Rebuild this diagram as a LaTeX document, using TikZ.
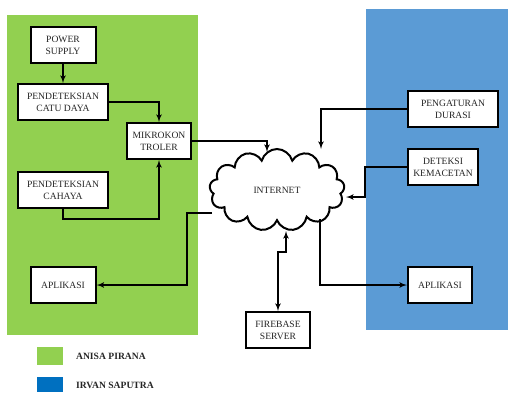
\documentclass[tikz,border=0pt]{standalone}
\usepackage{fontspec}
\setmainfont{Liberation Serif}
\usetikzlibrary{arrows,shapes.symbols,positioning}
\definecolor{anisagreen}{RGB}{146,208,80}
\definecolor{irvanblue}{RGB}{91,155,213}
\definecolor{irvanmark}{RGB}{0,112,192}

\begin{document}
\begin{tikzpicture}[x=1pt,y=-1pt,>=latex',line width=1.6pt,
            block/.style={draw,fill=white,line width=2pt,align=center,text=black!85,
              minimum height=36pt,inner sep=1pt,font=\fontsize{9.6}{12}\selectfont},
            legend text/.style={anchor=west,text=black!85,font=\fontsize{9.6}{12}\selectfont\bfseries}]

        \useasboundingbox (0,0) rectangle (508,392);

        % daerah tiap anggota
        \fill[anisagreen] (7,15) rectangle (198,335);
        \fill[irvanblue] (366,9) rectangle (508,330);

        \node[block,minimum width=65pt] (power) at (63,45) {POWER\\SUPPLY};
        \node[block,minimum width=90pt] (catu) [below=19pt of power] {PENDETEKSIAN\\CATU DAYA};
        \node[block,minimum width=64pt] (mikro) at (159,141) {MIKROKON\\TROLER};
        \node[block,minimum width=90pt] (cahaya) at (63,190) {PENDETEKSIAN\\CAHAYA};
        \node[block,minimum width=65pt] (appL) at (63,285) {APLIKASI};

        \node[cloud,draw,fill=white,line width=2pt,cloud puffs=13,aspect=1.7,
              minimum width=135pt,minimum height=82pt,inner sep=0pt,text=black!85,
              font=\fontsize{9.6}{12}\selectfont] (internet) at (277,190) {INTERNET};

        \node[block,minimum width=90pt] (atur) at (453,109) {PENGATURAN\\DURASI};
        \node[block,minimum width=70pt] (deteksi) at (443,167) {DETEKSI\\KEMACETAN};
        \node[block,minimum width=64pt] (appR) at (440,285) {APLIKASI};
        \node[block,minimum width=64pt] (fire) at (278,330) {FIREBASE\\SERVER};

        % titik pada tepi awan
        \coordinate (inA) at (267,152);
        \coordinate (inB) at (321,149);
        \coordinate (inC) at (346,197);
        \coordinate (inD) at (212,213);
        \coordinate (inE) at (320,219);
        \coordinate (inF) at (286,231);

        \draw[->] (power) -- (catu);
        \draw[->] (catu.east) -| (mikro.north);
        \draw[->] (cahaya.south) -- ++(0,10) -| (mikro.south);
        \draw[->] (mikro.east) -| (inA);
        \draw[->] (atur.west) -| (inB);
        \draw[->] (deteksi.west) -- ++(-42,0) |- (inC);
        \draw[->] (inD) -- ++(-25,0) |- (appL.east);
        \draw[->] (inE) |- (appR.west);
        \draw[<->] (fire.north) -- ++(0,-59) -| (inF);

        % keterangan
        \fill[anisagreen] (37,347) rectangle (63,365);
        \node[legend text] (legA) at (72,356) {ANISA PIRANA};
        \fill[irvanmark] (37,377) rectangle (63,392);
        \node[legend text] (legB) at (72,385) {IRVAN SAPUTRA};

    \end{tikzpicture}
\end{document}
